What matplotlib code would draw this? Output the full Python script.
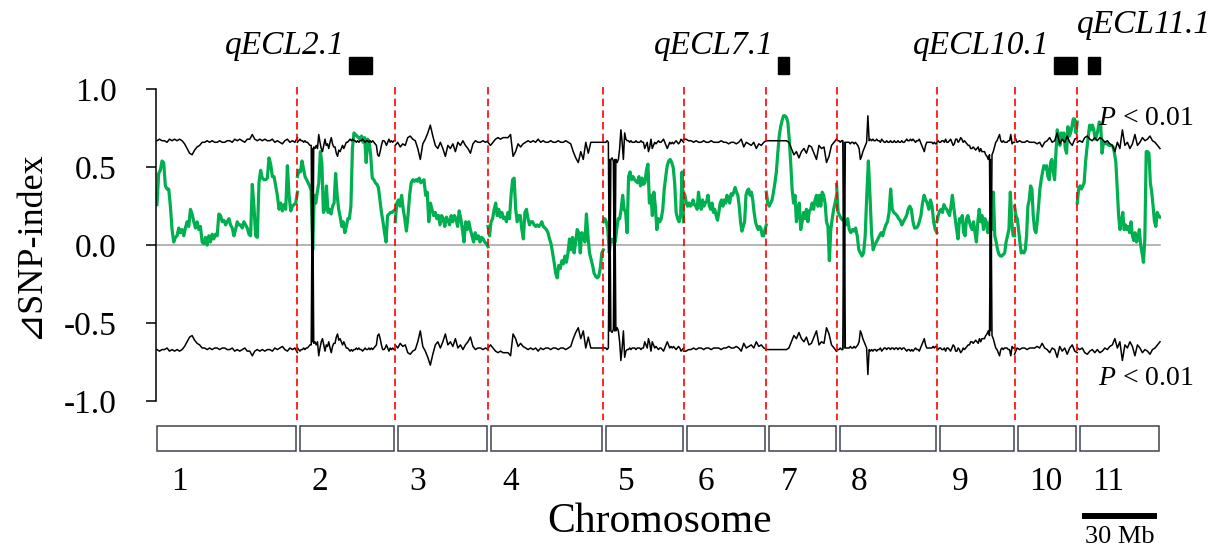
import numpy as np
import matplotlib
matplotlib.use("Agg")
import matplotlib.pyplot as plt
from matplotlib.patches import Rectangle

plt.rcParams['font.family'] = ['Liberation Serif', 'DejaVu Sans']
plt.rcParams['axes.unicode_minus'] = False
plt.rcParams['mathtext.fontset'] = 'custom'
plt.rcParams['mathtext.rm'] = 'Liberation Serif'
plt.rcParams['mathtext.it'] = 'Liberation Serif:italic'

# ---------------------------------------------------------------- data
chrom_names = ["1", "2", "3", "4", "5", "6", "7", "8", "9", "10", "11"]
chrom_len_mb = [56, 39, 37, 46, 32, 33, 28, 40, 31, 25, 33]

# delta SNP-index (sliding-window averages), evenly spaced along each chromosome
delta_chr1 = [0.26, 0.46, 0.48, 0.54, 0.53, 0.38, 0.36, 0.36, 0.25, 0.10, 0.02, 0.05, 0.06, 0.11, 0.08,
              0.10, 0.06, 0.11, 0.15, 0.12, 0.23, 0.20, 0.15, 0.11, 0.15, 0.10, 0.12, 0.02, 0.01, 0.05,
              -0.00, 0.06, 0.02, 0.07, 0.04, 0.07, 0.06, 0.20, 0.19, 0.15, 0.16, 0.13, 0.15, 0.17, 0.13,
              0.11, 0.06, 0.10, 0.15, 0.13, 0.13, 0.11, 0.15, 0.13, 0.11, 0.07, 0.06, 0.39, 0.25, 0.06,
              0.05, 0.40, 0.48, 0.43, 0.42, 0.42, 0.43, 0.56, 0.52, 0.44, 0.44, 0.38, 0.32, 0.23, 0.27,
              0.22, 0.26, 0.23, 0.51, 0.32, 0.22, 0.25, 0.26, 0.27, 0.34]
delta_chr2 = [0.44, 0.48, 0.47, 0.54, 0.49, 0.44, 0.42, 0.40, 0.38, 0.35, -0.03, 0.32, 0.27, 0.34, 0.40,
              0.60, 0.53, 0.21, 0.23, 0.38, 0.21, 0.23, 0.20, 0.25, 0.27, 0.46, 0.32, 0.23, 0.18, 0.12,
              0.15, 0.08, 0.12, 0.17, 0.17, 0.25, 0.62, 0.72, 0.71, 0.70, 0.69, 0.68, 0.70, 0.66, 0.69,
              0.53, 0.68, 0.66, 0.57, 0.43, 0.42, 0.40, 0.39, 0.37, 0.29, 0.21, 0.15, 0.08, 0.02, 0.19,
              0.20, 0.21, 0.21, 0.22, 0.23]
delta_chr3 = [0.15, 0.27, 0.29, 0.25, 0.32, 0.23, 0.17, 0.09, 0.19, 0.32, 0.40, 0.42, 0.41, 0.42, 0.41,
              0.43, 0.40, 0.41, 0.42, 0.32, 0.34, 0.15, 0.27, 0.23, 0.19, 0.21, 0.17, 0.19, 0.13, 0.19,
              0.17, 0.12, 0.18, 0.16, 0.13, 0.19, 0.15, 0.19, 0.17, 0.12, 0.22, 0.17, 0.10, 0.02, 0.15,
              0.10, 0.15, 0.10, 0.06, 0.02, 0.08, 0.04, 0.06, 0.02, 0.05, 0.04, 0.02, 0.01, -0.01]
delta_chr4 = [0.12, 0.06, 0.15, 0.17, 0.23, 0.27, 0.19, 0.23, 0.18, 0.21, 0.17, 0.18, 0.15, 0.21, 0.17,
              0.32, 0.42, 0.43, 0.23, 0.15, 0.19, 0.19, 0.10, 0.04, 0.21, 0.23, 0.17, 0.13, 0.15, 0.15,
              0.13, 0.12, 0.13, 0.12, 0.13, 0.15, 0.12, 0.11, 0.10, 0.08, 0.04, 0.01, -0.05, -0.11, -0.18,
              -0.21, -0.13, -0.15, -0.10, -0.12, -0.07, -0.11, -0.05, 0.04, -0.03, 0.05, -0.05, 0.02, 0.10,
              0.08, -0.05, 0.08, 0.06, 0.02, 0.20, 0.06, -0.05, -0.09, -0.13, -0.18, -0.20, -0.21, -0.20,
              -0.15, -0.05, -0.03]
delta_chr5 = [0.15, 0.17, 0.15, 0.10, -0.05, 0.04, 0.02, 0.04, 0.02, 0.10, 0.17, 0.17, 0.23, 0.32, 0.23,
              0.21, 0.08, 0.44, 0.47, 0.42, 0.44, 0.42, 0.41, 0.40, 0.44, 0.38, 0.43, 0.39, 0.40, 0.48,
              0.52, 0.27, 0.32, 0.19, 0.34, 0.25, 0.10, 0.17, 0.15, 0.17, 0.23, 0.36, 0.44, 0.51, 0.54,
              0.55, 0.53, 0.50, 0.40, 0.21, 0.17, 0.15, 0.19, 0.47, 0.15]
delta_chr6 = [0.34, 0.32, 0.27, 0.25, 0.27, 0.25, 0.26, 0.29, 0.26, 0.25, 0.23, 0.34, 0.27, 0.23, 0.29,
              0.25, 0.27, 0.28, 0.32, 0.25, 0.23, 0.27, 0.21, 0.23, 0.19, 0.16, 0.21, 0.27, 0.29, 0.25,
              0.29, 0.27, 0.32, 0.29, 0.27, 0.33, 0.32, 0.34, 0.37, 0.34, 0.32, 0.25, 0.15, 0.09, 0.12,
              0.15, 0.32, 0.35, 0.36, 0.32, 0.34, 0.29, 0.21, 0.15, 0.12, 0.10, 0.12, 0.11, 0.06, 0.06,
              0.10, 0.13]
delta_chr7 = [0.34, 0.27, 0.25, 0.27, 0.29, 0.34, 0.40, 0.47, 0.59, 0.70, 0.76, 0.80, 0.83, 0.83, 0.82,
              0.79, 0.68, 0.53, 0.36, 0.27, 0.32, 0.15, 0.21, 0.27, 0.10, 0.15, 0.21, 0.17, 0.23, 0.15,
              0.22, 0.23, 0.27, 0.23, 0.29, 0.32, 0.25, 0.32, 0.25, 0.34, 0.32, 0.27, 0.15, 0.12, -0.10,
              0.10, 0.17, 0.23, 0.27, 0.32]
delta_chr8 = [0.39, 0.21, 0.19, 0.17, 0.16, 0.15, 0.13, 0.17, 0.10, 0.08, 0.10, 0.09, 0.11, 0.06, -0.03,
              -0.05, -0.07, -0.05, 0.06, 0.32, 0.54, 0.32, 0.08, -0.03, -0.00, 0.02, 0.04, 0.06, 0.08,
              0.06, 0.10, 0.13, 0.15, 0.21, 0.36, 0.23, 0.21, 0.20, 0.19, 0.17, 0.16, 0.13, 0.15, 0.17,
              0.19, 0.23, 0.25, 0.23, 0.15, 0.11, 0.11, 0.12, 0.15, 0.19, 0.27, 0.32, 0.29, 0.27, 0.23,
              0.29, 0.25, 0.15, 0.10, 0.08]
delta_chr9 = [0.15, 0.19, 0.22, 0.23, 0.21, 0.26, 0.24, 0.23, 0.21, 0.19, 0.25, 0.32, 0.24, 0.17, 0.10,
              0.04, 0.17, 0.15, 0.19, 0.08, 0.06, 0.17, 0.19, 0.15, 0.12, 0.10, 0.15, 0.08, 0.02, 0.15,
              0.23, 0.15, 0.19, 0.10, 0.17, 0.15, 0.08, 0.12, 0.17, 0.10, 0.34, 0.06, 0.02, -0.03, -0.06,
              -0.07, -0.07, -0.06, -0.05, 0.02, 0.06, 0.10, 0.34, 0.15, 0.06, 0.06]
delta_chr10 = [0.25, 0.19, 0.17, 0.10, 0.02, -0.05, -0.04, -0.05, -0.03, 0.06, 0.25, 0.29, 0.38, 0.36,
               0.19, 0.10, 0.08, 0.15, 0.25, 0.36, 0.42, 0.47, 0.51, 0.49, 0.51, 0.44, 0.42, 0.53, 0.55,
               0.47, 0.42, 0.59, 0.74, 0.70, 0.64, 0.72, 0.68, 0.72, 0.62, 0.59, 0.76, 0.70, 0.72, 0.76,
               0.81, 0.81, 0.72, 0.79]
delta_chr11 = [0.27, 0.36, 0.38, 0.36, 0.38, 0.40, 0.53, 0.62, 0.70, 0.77, 0.74, 0.77, 0.74, 0.68, 0.70,
               0.74, 0.79, 0.77, 0.59, 0.66, 0.66, 0.65, 0.65, 0.64, 0.64, 0.64, 0.63, 0.59, 0.53, 0.36,
               0.19, 0.10, 0.15, 0.21, 0.10, 0.13, 0.10, 0.12, 0.08, 0.15, 0.06, 0.03, 0.08, 0.02, 0.04,
               0.10, 0.00, -0.05, -0.11, 0.04, 0.60, 0.60, 0.59, 0.40, 0.34, 0.25, 0.15, 0.12, 0.21, 0.19,
               0.18]

# 99% confidence threshold of delta SNP-index (upper bound; lower bound is its mirror)
thr_chr1 = [0.67, 0.68, 0.67, 0.67, 0.66, 0.68, 0.67, 0.68, 0.67, 0.68, 0.67, 0.65, 0.62, 0.59, 0.58,
            0.61, 0.63, 0.64, 0.66, 0.66, 0.67, 0.66, 0.67, 0.66, 0.66, 0.67, 0.66, 0.66, 0.67, 0.67,
            0.66, 0.68, 0.67, 0.68, 0.67, 0.66, 0.68, 0.68, 0.71, 0.68, 0.67, 0.68, 0.67, 0.68, 0.67,
            0.67, 0.68, 0.66, 0.67, 0.66, 0.65, 0.67, 0.68, 0.66, 0.67, 0.66, 0.69]
thr_chr2 = [0.66, 0.67, 0.68, 0.67, 0.67, 0.66, 0.67, 0.66, 0.66, 0.65, 0.64, 0.64, -0.62, 0.63, 0.62,
            0.64, 0.62, 0.71, 0.66, 0.62, 0.60, 0.64, 0.68, 0.64, 0.65, 0.62, 0.66, 0.69, 0.65, 0.63,
            0.63, 0.59, 0.57, 0.61, 0.60, 0.62, 0.64, 0.62, 0.64, 0.66, 0.66, 0.67, 0.68, 0.67, 0.68,
            0.67, 0.67, 0.66, 0.67, 0.66, 0.67, 0.67, 0.68, 0.67, 0.66, 0.67, 0.67, 0.66, 0.67, 0.66,
            0.67, 0.66, 0.65, 0.64, 0.58, 0.57, 0.60, 0.64, 0.67, 0.67, 0.66, 0.64, 0.66, 0.68, 0.66,
            0.67, 0.66, 0.67, 0.67]
thr_chr3 = [0.64, 0.66, 0.63, 0.65, 0.64, 0.69, 0.70, 0.68, 0.67, 0.62, 0.55, 0.65, 0.68, 0.72, 0.77,
            0.70, 0.64, 0.62, 0.66, 0.62, 0.57, 0.64, 0.62, 0.65, 0.60, 0.66, 0.64, 0.67, 0.64, 0.62,
            0.59, 0.65, 0.67, 0.66, 0.66, 0.67, 0.66, 0.67]
thr_chr4 = [0.66, 0.64, 0.66, 0.68, 0.69, 0.68, 0.69, 0.69, 0.69, 0.71, 0.57, 0.60, 0.65, 0.63, 0.65,
            0.66, 0.67, 0.66, 0.67, 0.66, 0.68, 0.66, 0.67, 0.66, 0.66, 0.67, 0.66, 0.66, 0.67, 0.66,
            0.66, 0.67, 0.66, 0.65, 0.60, 0.56, 0.53, 0.60, 0.55, 0.66, 0.59, 0.66, 0.66, 0.66, 0.66,
            0.66, 0.66]
thr_chr5 = [0.66, 0.66, 0.66, 0.67, 0.66, -0.55, 0.55, 0.56, 0.54, -0.55, 0.55, 0.53, 0.55, 0.62, 0.74,
            0.66, 0.55, 0.72, 0.68, 0.67, 0.67, 0.66, 0.67, 0.66, 0.66, 0.66, 0.67, 0.66, 0.66, 0.66,
            0.67, 0.66, 0.66, 0.62, 0.64, 0.66, 0.60, 0.63, 0.68, 0.62, 0.64, 0.66, 0.65, 0.66, 0.67,
            0.66, 0.66, 0.67, 0.68, 0.66, 0.64, 0.62, 0.64, 0.66, 0.65, 0.66, 0.65, 0.66, 0.67, 0.66,
            0.65, 0.66, 0.68, 0.67, 0.66]
thr_chr6 = [0.68, 0.68, 0.67, 0.67, 0.66, 0.67, 0.66, 0.66, 0.67, 0.66, 0.66, 0.67, 0.66, 0.66, 0.66,
            0.67, 0.66, 0.66, 0.65, 0.66, 0.66, 0.65, 0.66, 0.68, 0.63, 0.66, 0.65, 0.64, 0.66, 0.62,
            0.65, 0.64, 0.66, 0.67]
thr_chr7 = [0.67, 0.67, 0.67, 0.67, 0.67, 0.67, 0.67, 0.67, 0.67, 0.66, 0.62, 0.58, 0.60, 0.56, 0.60,
            0.62, 0.59, 0.64, 0.63, 0.59, 0.55, 0.64, 0.62, 0.63, 0.53, 0.57, 0.64, 0.66, 0.68]
thr_chr8 = [0.68, 0.67, 0.67, 0.66, 0.67, 0.67, -0.66, 0.66, 0.66, 0.66, 0.66, 0.65, 0.66, 0.66, 0.65,
            0.66, 0.65, 0.64, 0.62, 0.55, 0.57, 0.60, 0.62, 0.64, 0.66, 0.83, 0.67, 0.68, 0.67, 0.68,
            0.67, 0.67, 0.68, 0.67, 0.67, 0.66, 0.68, 0.67, 0.66, 0.66, 0.67, 0.66, 0.66, 0.67, 0.66,
            0.66, 0.67, 0.66, 0.66, 0.67, 0.66, 0.66, 0.67, 0.66, 0.66, 0.67, 0.68, 0.67, 0.67, 0.68,
            0.67, 0.68, 0.67, 0.66, 0.67, 0.67, 0.68, 0.66, 0.64, 0.62, 0.60, 0.64, 0.66, 0.66, 0.66,
            0.66, 0.66, 0.65, 0.66, 0.65, 0.65]
thr_chr9 = [0.66, 0.67, 0.66, 0.66, 0.67, 0.67, 0.66, 0.68, 0.66, 0.66, 0.67, 0.68, 0.66, 0.64, 0.65,
            0.68, 0.68, 0.66, 0.67, 0.69, 0.68, 0.66, 0.67, 0.66, 0.65, 0.64, 0.64, 0.62, 0.62, 0.63,
            0.62, 0.61, 0.62, 0.63, 0.60, 0.62, 0.60, 0.60, 0.60, 0.58, 0.57, 0.55, 0.58, -0.55, 0.58,
            0.60, 0.63, 0.66, 0.67, 0.69, 0.71, 0.67, 0.66, 0.67, 0.66, 0.66, 0.66, 0.67, 0.67, 0.71,
            0.65, 0.66, 0.66]
thr_chr10 = [0.70, 0.66, 0.67, 0.66, 0.66, 0.67, 0.66, 0.66, 0.66, 0.65, 0.66, 0.63, 0.66, 0.67, 0.69,
             0.66, 0.67, 0.72, 0.65, 0.68, 0.66, 0.70, 0.66, 0.64, 0.68, 0.69]
thr_chr11 = [0.66, 0.67, 0.66, 0.69, 0.70, 0.68, 0.67, 0.69, 0.67, 0.69, 0.68, 0.66, 0.67, 0.65, 0.64,
             0.60, 0.66, 0.62, 0.74, 0.64, 0.66, 0.62, 0.65, 0.71, 0.64, 0.66, 0.69, 0.67, 0.68, 0.70,
             0.67, 0.66, 0.64, 0.62]

delta_by_chrom = [delta_chr1, delta_chr2, delta_chr3, delta_chr4, delta_chr5, delta_chr6,
                  delta_chr7, delta_chr8, delta_chr9, delta_chr10, delta_chr11]
thr_by_chrom = [thr_chr1, thr_chr2, thr_chr3, thr_chr4, thr_chr5, thr_chr6,
                thr_chr7, thr_chr8, thr_chr9, thr_chr10, thr_chr11]

# QTL intervals (chromosome, start Mb, end Mb)
qtl_names = ["qECL2.1", "qECL7.1", "qECL10.1", "qECL11.1"]
qtl_chrom = [2, 7, 10, 11]
qtl_start_mb = [20.6, 4.7, 15.6, 4.4]
qtl_end_mb = [29.8, 9.2, 24.8, 9.2]

yticks = [1.0, 0.5, 0.0, -0.5, -1.0]
ytick_labels = ["1.0", "0.5", "0.0", "-0.5", "-1.0"]
scale_bar_mb = 30

# ---------------------------------------------------------------- figure
GREEN = "#00B050"
W, H, DPI = 1226, 552, 100
fig = plt.figure(figsize=(W / DPI, H / DPI), dpi=DPI)

genome_len = sum(chrom_len_mb)
px_per_mb = (1160 - 157) / genome_len
ax_l, ax_r, ax_t, ax_b = 155.7, 1161.0, 89.3, 401.0
ax = fig.add_axes([ax_l / W, 1 - ax_b / H, (ax_r - ax_l) / W, (ax_b - ax_t) / H])
ax.set_xlim(-(157 - ax_l) / px_per_mb, genome_len + (ax_r - 1160) / px_per_mb)
ax.set_ylim(-1.0, 1.0)

starts = np.concatenate([[0], np.cumsum(chrom_len_mb)[:-1]])
ends = starts + np.array(chrom_len_mb)

# zero line
ax.plot([0, genome_len], [0, 0], color="#A0A0A0", lw=1.1, zorder=1)

# delta SNP-index
for s, L, vals in zip(starts, chrom_len_mb, delta_by_chrom):
    x = s + np.linspace(0, L, len(vals))
    ax.plot(x, vals, color=GREEN, lw=2.3, solid_joinstyle="round", zorder=2)

# confidence thresholds
for s, L, vals in zip(starts, chrom_len_mb, thr_by_chrom):
    x = s + np.linspace(0, L, len(vals))
    v = np.array(vals)
    ax.plot(x, v, color="black", lw=1.1, zorder=3)
    ax.plot(x, -v, color="black", lw=1.1, zorder=3)

# chromosome boundaries
for b in ends[:-1]:
    ax.plot([b, b], [1.015, -1.12], color="#FF0000", lw=1.2, ls=(0, (4.5, 2.5)),
            clip_on=False, zorder=4)

# chromosome boxes and names
for i, (s, e) in enumerate(zip(starts, ends)):
    x0 = s + (0.0 if i == 0 else 1.2)
    ax.add_patch(Rectangle((x0, -1.318), (e - 0.4) - x0, 0.16, fill=False,
                           edgecolor="#3F444C", lw=1.1, clip_on=False))
    ax.text(s + 5.8, -1.515, chrom_names[i], ha="left", va="center", fontsize=24,
            clip_on=False)

# QTL marks
for name, c, q0, q1 in zip(qtl_names, qtl_chrom, qtl_start_mb, qtl_end_mb):
    s = starts[c - 1]
    ax.add_patch(Rectangle((s + q0, 1.098), q1 - q0, 0.109, color="black",
                           clip_on=False))
    if name == "qECL11.1":
        ax.text(s + q0 - 4.5, 1.36, name, ha="left", va="baseline", fontsize=24,
                style="italic", clip_on=False)
    else:
        ax.text(s + q0 - 1.6, 1.225, name, ha="right", va="baseline", fontsize=24,
                style="italic", clip_on=False)

# threshold annotations
for yb in (0.771, -0.895):
    ax.text(genome_len - 24.8, yb, "$P$ < 0.01", fontsize=20, va="baseline",
            ha="left", clip_on=False)

# scale bar
sb_x1 = genome_len - 1.2
ax.plot([sb_x1 - scale_bar_mb, sb_x1], [-1.735, -1.735], color="black", lw=4.3,
        solid_capstyle="butt", clip_on=False)
ax.text(sb_x1 - scale_bar_mb / 2, -1.80, f"{scale_bar_mb} Mb", ha="center", va="top",
        fontsize=19, clip_on=False)

# axes styling
for side in ("top", "right", "bottom"):
    ax.spines[side].set_visible(False)
ax.spines["left"].set_linewidth(1.1)
ax.set_xticks([])
ax.set_yticks(yticks)
ax.set_yticklabels(ytick_labels, fontsize=24)
ax.tick_params(axis="y", direction="out", length=7.2, width=1.1, pad=21)

fig.text(660 / W, 1 - 522 / H, "Chromosome", ha="center", va="center", fontsize=30)
fig.text(30 / W, 1 - 245 / H, "⊿SNP-index", ha="center", va="center", fontsize=26,
         rotation=90)

fig.savefig("out.png", dpi=DPI)
